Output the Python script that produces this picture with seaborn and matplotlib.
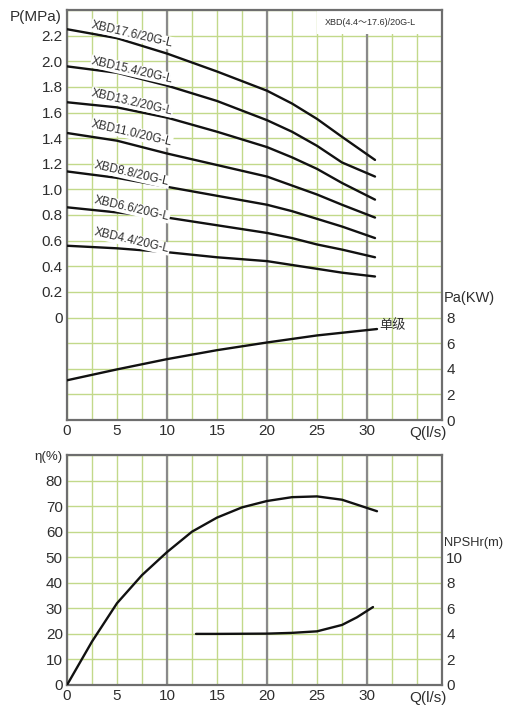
import numpy as np
import pandas as pd
import seaborn as sns
import matplotlib.pyplot as plt

# ---- data ----
flow = [0, 5, 10, 15, 20, 22.5, 25, 27.5, 30.8]
head_176 = [2.25, 2.18, 2.06, 1.92, 1.77, 1.67, 1.55, 1.41, 1.23]
head_154 = [1.96, 1.91, 1.81, 1.69, 1.54, 1.45, 1.34, 1.21, 1.10]
head_132 = [1.68, 1.64, 1.56, 1.45, 1.33, 1.25, 1.16, 1.05, 0.92]
head_110 = [1.44, 1.38, 1.28, 1.19, 1.10, 1.03, 0.96, 0.88, 0.78]
head_88 = [1.14, 1.09, 1.02, 0.95, 0.88, 0.83, 0.77, 0.71, 0.62]
head_66 = [0.86, 0.82, 0.78, 0.72, 0.66, 0.62, 0.57, 0.53, 0.47]
head_44 = [0.56, 0.54, 0.51, 0.47, 0.44, 0.41, 0.38, 0.35, 0.32]
models = ['XBD17.6/20G-L', 'XBD15.4/20G-L', 'XBD13.2/20G-L', 'XBD11.0/20G-L',
          'XBD8.8/20G-L', 'XBD6.6/20G-L', 'XBD4.4/20G-L']

power_flow = [0, 5, 10, 15, 20, 25, 31]
power_kw = [3.1, 3.95, 4.75, 5.45, 6.05, 6.6, 7.1]

eff_flow = [0, 2.5, 5, 7.5, 10, 12.5, 15, 17.5, 20, 22.5, 25, 27.5, 31]
eff_pct = [0, 17, 32, 43, 52, 60, 65.5, 69.5, 72, 73.5, 73.8, 72.5, 68]

npsh_flow = [12.9, 15, 20, 22.5, 25, 27.5, 29, 30.6]
npsh_m = [4.0, 4.0, 4.02, 4.08, 4.2, 4.7, 5.3, 6.1]

heads = [head_176, head_154, head_132, head_110, head_88, head_66, head_44]
df = pd.DataFrame({
    'Q': flow * len(models),
    'P': sum(heads, []),
    'model': [m for m in models for _ in flow],
})

# label placement (data coords)
label_q = 6.5
label_p = [2.21, 1.93, 1.68, 1.44, 1.12, 0.85, 0.60]

sns.set_style('white')
plt.rcParams['font.family'] = ['Liberation Sans', 'Noto Sans CJK SC', 'DejaVu Sans']

GREEN = '#c2d98a'
DARK = '#8a8a8a'
FRAME = '#6e6e6e'
TXT = '#2e2e2e'
FS = 11
W, H = 508, 707

fig = plt.figure(figsize=(W / 100, H / 100), dpi=100)
ax1 = fig.add_axes([67 / W, 1 - 420 / H, 375 / W, 410 / H])
ax2 = fig.add_axes([67 / W, 1 - 685 / H, 375 / W, 230 / H])


def grid_axes(ax, ymin, ymax, ystep, yticks, ylabels=None):
    ax.set_xlim(0, 37.5)
    ax.set_ylim(ymin, ymax)
    ax.set_xticks(np.arange(0, 31, 5))
    ax.set_xticks(np.arange(0, 37.6, 2.5), minor=True)
    ax.set_yticks(yticks)
    if ylabels is not None:
        ax.set_yticklabels(ylabels)
    ax.set_yticks(np.round(np.arange(ymin, ymax + 1e-6, ystep), 2), minor=True)
    ax.set_axisbelow(True)
    ax.grid(which='both', color=GREEN, lw=1.0)
    for x in (10, 20, 30):
        ax.axvline(x, color=DARK, lw=1.6, zorder=1)
    ax.tick_params(which='both', length=0, labelsize=FS, labelcolor=TXT, pad=3)
    for s in ax.spines.values():
        s.set_visible(True)
        s.set_color(FRAME)
        s.set_linewidth(1.6)
    ax.set_xlabel('')
    ax.set_ylabel('')


def right_axis(ax):
    axr = ax.twinx()
    axr.grid(False)
    for s in axr.spines.values():
        s.set_visible(False)
    return axr


def finish_right(axr, ymax, ticks):
    axr.set_ylim(0, ymax)
    axr.set_yticks(ticks)
    axr.tick_params(length=0, labelsize=FS, labelcolor=TXT, pad=3)
    axr.set_ylabel('')
    axr.set_xlabel('')


# ---- top panel: head + power ----
sns.lineplot(data=df, x='Q', y='P', hue='model', palette=['#111111'] * len(models),
             legend=False, lw=1.7, ax=ax1, zorder=3)
ptick = np.round(np.arange(0, 2.21, 0.2), 1)
grid_axes(ax1, -0.8, 2.4, 0.2, ptick, ['0' if v == 0 else f'{v:.1f}' for v in ptick])
ax1.axhspan(2.21, 2.4, xmin=25 / 37.5, facecolor='white', edgecolor='none', zorder=1.5)

for m, p in zip(models, label_p):
    ax1.text(label_q, p, m, rotation=-13, ha='center', va='center', fontsize=8.5,
             color=TXT, zorder=4,
             bbox=dict(facecolor='white', edgecolor='none', pad=0.3))
ax1.text(30.3, 2.3, 'XBD(4.4～17.6)/20G-L', fontsize=6.5, ha='center', va='center',
         color=TXT, zorder=4)

# power axis: 2 kW per grid row, 16 rows
ax1r = right_axis(ax1)
sns.lineplot(x=power_flow, y=power_kw, color='#111111', lw=1.7, ax=ax1r)
finish_right(ax1r, 32, [0, 2, 4, 6, 8])
ax1r.text(32.6, 7.4, '单级', fontsize=9.5, ha='center', va='center', color=TXT,
          family=['Noto Sans CJK SC', 'DejaVu Sans'])

# ---- bottom panel: efficiency + NPSHr ----
sns.lineplot(x=eff_flow, y=eff_pct, color='#111111', lw=1.7, ax=ax2, zorder=3)
grid_axes(ax2, 0, 90, 10, np.arange(0, 81, 10))

ax2r = right_axis(ax2)
sns.lineplot(x=npsh_flow, y=npsh_m, color='#111111', lw=1.7, ax=ax2r)
finish_right(ax2r, 18, [0, 2, 4, 6, 8, 10])

# ---- axis titles ----
fig.text(62 / W, 1 - 17 / H, 'P(MPa)', ha='right', va='center', fontsize=FS, color=TXT)
fig.text(444 / W, 1 - 298 / H, 'Pa(KW)', ha='left', va='center', fontsize=FS - 0.5, color=TXT)
fig.text(428 / W, 1 - 433 / H, 'Q(l/s)', ha='center', va='center', fontsize=FS, color=TXT)
fig.text(62 / W, 1 - 457 / H, 'η(%)', ha='right', va='center', fontsize=FS - 1.5, color=TXT)
fig.text(444 / W, 1 - 543 / H, 'NPSHr(m)', ha='left', va='center', fontsize=9.3, color=TXT)
fig.text(428 / W, 1 - 698 / H, 'Q(l/s)', ha='center', va='center', fontsize=FS, color=TXT)

fig.savefig('out.png', dpi=100)
